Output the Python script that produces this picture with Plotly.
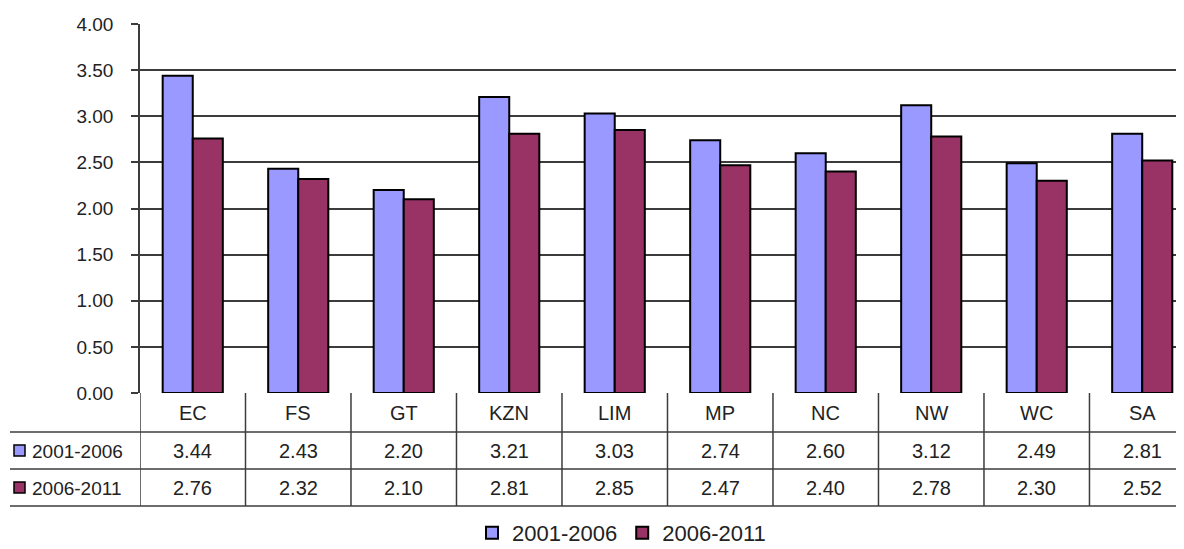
import plotly.graph_objects as go

categories = ["EC", "FS", "GT", "KZN", "LIM", "MP", "NC", "NW", "WC", "SA"]
series_names = ["2001-2006", "2006-2011"]
values_2001_2006 = [3.44, 2.43, 2.20, 3.21, 3.03, 2.74, 2.60, 3.12, 2.49, 2.81]
values_2006_2011 = [2.76, 2.32, 2.10, 2.81, 2.85, 2.47, 2.40, 2.78, 2.30, 2.52]
tick_values = [0, 0.5, 1.0, 1.5, 2.0, 2.5, 3.0, 3.5, 4.0]

colors = ["#9999FF", "#993366"]
series_values = [values_2001_2006, values_2006_2011]

OFF = 8  # page body margin
W, H = 1184 - OFF, 549 - OFF
ML, MR, MT, MB = 140 - OFF, 0, 24 - OFF, 549 - 393
plot_h = H - MT - MB
plot_w = W - ML - MR
FONT = "Liberation Sans, Arial, sans-serif"
TXT = "#222222"
LINE = "#3c3c3c"


def py(p):
    """reference pixel y -> paper y"""
    return (H - MB - (p - OFF)) / plot_h


def px(p):
    """reference pixel x -> paper x"""
    return (p - OFF - ML) / plot_w


fig = go.Figure()
for name, vals, col in zip(series_names, series_values, colors):
    fig.add_trace(go.Bar(
        x=categories, y=vals, name=name,
        marker=dict(color=col, line=dict(color="#000000", width=2)),
        hoverinfo="x+y+name",
    ))

shapes = []
annotations = []

# table horizontal lines
for p in [432, 469, 506]:
    shapes.append(dict(type="line", xref="paper", yref="paper",
                       x0=px(10), x1=1, y0=py(p), y1=py(p),
                       line=dict(color=LINE, width=1.5)))
# table vertical lines at category boundaries
for k in range(len(categories)):
    shapes.append(dict(type="line", xref="x", yref="paper",
                       x0=k - 0.5, x1=k - 0.5, y0=0, y1=py(506),
                       line=dict(color=LINE, width=1.5)))

# category labels
for c in categories:
    annotations.append(dict(x=c, y=py(413), xref="x", yref="paper",
                            text=c, showarrow=False,
                            xanchor="center", yanchor="middle",
                            font=dict(family=FONT, size=20, color=TXT)))

# value rows
row_centers = [451, 488]
for name, vals, col, rc in zip(series_names, series_values, colors, row_centers):
    for c, v in zip(categories, vals):
        annotations.append(dict(x=c, y=py(rc), xref="x", yref="paper",
                                text=f"{v:.2f}", showarrow=False,
                                xanchor="center", yanchor="middle",
                                font=dict(family=FONT, size=20, color=TXT)))
    annotations.append(dict(x=px(30), y=py(rc), xref="paper", yref="paper",
                            text=name, showarrow=False,
                            xanchor="left", yanchor="middle",
                            font=dict(family=FONT, size=19, color=TXT)))
    shapes.append(dict(type="rect", xref="paper", yref="paper",
                       x0=px(14), x1=px(25), y0=py(rc - 6), y1=py(rc + 5),
                       fillcolor=col, line=dict(color="#000000", width=1.5)))

fig.update_layout(
    width=W, height=H,
    margin=dict(l=ML, r=MR, t=MT, b=MB, autoexpand=False),
    paper_bgcolor="white", plot_bgcolor="white",
    barmode="group", bargap=0.43, bargroupgap=0.0,
    font=dict(family=FONT, size=18, color=TXT),
    shapes=shapes, annotations=annotations,
    showlegend=True,
    legend=dict(orientation="h", x=px(472), xanchor="left",
                y=py(554), yanchor="bottom",
                font=dict(family=FONT, size=22, color=TXT),
                itemwidth=30, tracegroupgap=0),
    xaxis=dict(range=[-0.5, 9.396], showticklabels=False, ticks="",
               showgrid=False, zeroline=False, showline=False,
               fixedrange=True, automargin=False),
    yaxis=dict(range=[0, 4], tickvals=tick_values, tickformat=".2f",
               showgrid=True, gridcolor=LINE, gridwidth=1.5,
               showline=True, linecolor=LINE, linewidth=1.5,
               ticks="outside", ticklen=7, tickcolor=LINE, tickwidth=1.5,
               ticklabelstandoff=14, zeroline=False, automargin=False,
               tickfont=dict(family=FONT, size=19, color=TXT),
               fixedrange=True),
)

fig.write_html("out.html")
